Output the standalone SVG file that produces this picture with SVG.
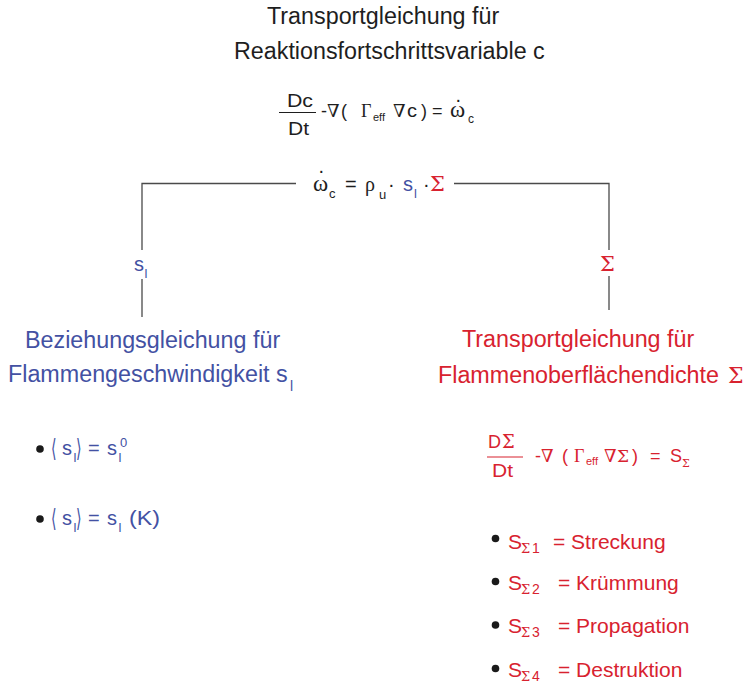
<svg xmlns="http://www.w3.org/2000/svg" width="748" height="683" viewBox="0 0 748 683">
  <style>
    .sans { font-family: "Liberation Sans", Arial, sans-serif; }
    .greek { font-family: "Liberation Serif", "DejaVu Serif", serif; }
    .sig { font-family: "DejaVu Serif", "Liberation Serif", serif; }
    .math { font-family: "DejaVu Sans", "Liberation Serif", serif; }
    .dark { fill: #1e1e1e; }
    .blue { fill: #4351a3; }
    .red { fill: #d8222f; }
    .h { font-size: 23.3px; }
    .eq { font-size: 18px; }
    .row { font-size: 20px; }
    .item { font-size: 21px; }
    .sub { font-size: 12px; }
    .link { stroke: #4a4a4a; stroke-width: 1.3; fill: none; }
    .bar { stroke-width: 1.1; }
    .dot { fill: #1a1a1a; }
  </style>

  <!-- top node: transport equation for the progress variable c -->
  <g id="node-c-transport" class="sans dark">
    <text class="h" x="267" y="24">Transportgleichung für</text>
    <text class="h" x="234" y="59">Reaktionsfortschrittsvariable c</text>
    <text class="eq" x="287" y="107" textLength="26" lengthAdjust="spacingAndGlyphs">Dc</text>
    <line x1="279" y1="112.5" x2="316" y2="112.5" stroke="#1e1e1e" class="bar"/>
    <text class="eq" x="288" y="135" textLength="21" lengthAdjust="spacingAndGlyphs">Dt</text>
    <text class="eq" x="321" y="117">-</text>
    <text class="eq greek" x="327" y="117">∇</text>
    <text class="eq" x="341" y="117">(</text>
    <text class="eq greek" x="361" y="117">Γ</text>
    <text class="sub" x="373" y="121" style="font-size:11px">eff</text>
    <text class="eq greek" x="393" y="117">∇</text>
    <text class="eq" x="407" y="117" textLength="10" lengthAdjust="spacingAndGlyphs">c</text>
    <text class="eq" x="421" y="117">)</text>
    <text class="eq" x="432" y="117">=</text>
    <text class="greek" x="450" y="117" style="font-size:23px">ω</text>
    <text class="row" x="455.5" y="102">.</text>
    <text class="sub" x="468" y="123">c</text>
  </g>

  <!-- source term node: omega_c = rho_u * s_l * Sigma -->
  <g id="node-source" class="sans">
    <text class="greek dark" x="313" y="191" style="font-size:23px">ω</text>
    <text class="row dark" x="318.5" y="173">.</text>
    <text class="sub dark" x="329" y="198" style="font-size:13px">c</text>
    <text class="row dark" x="345" y="191">=</text>
    <text class="row greek dark" x="365" y="191">ρ</text>
    <text class="sub dark" x="379" y="199" style="font-size:13px">u</text>
    <text class="row dark" x="388" y="191">·</text>
    <text class="row blue" x="403" y="191">s</text>
    <text class="sub blue" x="414" y="198" style="font-size:13px">l</text>
    <text class="row dark" x="423" y="191">·</text>
    <text class="sig red" x="430" y="191" style="font-size:21px">Σ</text>
  </g>

  <!-- connectors from the source term to both sub-models -->
  <g id="connectors">
    <polyline class="link" points="296,183.5 142,183.5 142,250"/>
    <line class="link" x1="142" y1="279" x2="142" y2="317"/>
    <polyline class="link" points="454,183.5 609,183.5 609,250"/>
    <line class="link" x1="609" y1="276" x2="609" y2="310"/>
    <text class="sans blue" x="134" y="271" style="font-size:20px">s</text>
    <text class="sans blue" x="144.5" y="278" style="font-size:13px">l</text>
    <text class="sig red" x="600" y="271" style="font-size:21px">Σ</text>
  </g>

  <!-- left node: laminar flame speed relation -->
  <g id="node-flame-speed" class="sans blue">
    <text class="h" x="25" y="348">Beziehungsgleichung für</text>
    <text class="h" x="8" y="382">Flammengeschwindigkeit s</text>
    <text class="sub" x="290" y="391" style="font-size:14px">l</text>

    <circle class="dot" cx="40" cy="449" r="3.8"/>
    <text class="math" transform="translate(51,457) scale(0.75,1.3)" style="font-size:19px">⟨</text>
    <text class="row" x="62" y="455">s</text>
    <text class="sub" x="73.5" y="462" style="font-size:13px">l</text>
    <text class="math" transform="translate(76,457) scale(0.75,1.3)" style="font-size:19px">⟩</text>
    <text class="row" x="88" y="455">=</text>
    <text class="row" x="107" y="455">s</text>
    <text class="sub" x="118.5" y="462" style="font-size:13px">l</text>
    <text class="sub" x="120" y="447" style="font-size:13px">0</text>

    <circle class="dot" cx="40" cy="519" r="3.8"/>
    <text class="math" transform="translate(51,527) scale(0.75,1.3)" style="font-size:19px">⟨</text>
    <text class="row" x="62" y="525">s</text>
    <text class="sub" x="73.5" y="532" style="font-size:13px">l</text>
    <text class="math" transform="translate(76,527) scale(0.75,1.3)" style="font-size:19px">⟩</text>
    <text class="row" x="88" y="525">=</text>
    <text class="row" x="107" y="525">s</text>
    <text class="sub" x="118.5" y="532" style="font-size:13px">l</text>
    <text class="item" x="129" y="525" textLength="31" lengthAdjust="spacingAndGlyphs">(K)</text>
  </g>

  <!-- right node: flame surface density transport -->
  <g id="node-surface-density" class="sans red">
    <text class="h" x="462" y="347">Transportgleichung für</text>
    <text class="h" x="438" y="383">Flammenoberflächendichte</text>
    <text class="sig" x="728" y="383" style="font-size:22px">Σ</text>

    <text class="eq" x="488" y="448">D</text>
    <text class="sig" x="502" y="448" style="font-size:18px">Σ</text>
    <line x1="487" y1="457" x2="523" y2="457" stroke="#d8222f" class="bar"/>
    <text class="eq" x="492" y="477" textLength="21" lengthAdjust="spacingAndGlyphs">Dt</text>
    <text class="eq" x="535" y="462">-</text>
    <text class="eq greek" x="541" y="462">∇</text>
    <text class="eq" x="562" y="462">(</text>
    <text class="eq greek" x="574" y="462">Γ</text>
    <text class="sub" x="586" y="465" style="font-size:11px">eff</text>
    <text class="eq greek" x="604" y="462">∇</text>
    <text class="sig" x="617" y="462" style="font-size:17px">Σ</text>
    <text class="eq" x="632" y="462">)</text>
    <text class="eq" x="650" y="462">=</text>
    <text class="eq" x="670" y="462">S</text>
    <text class="sig" x="682" y="467" style="font-size:11px">Σ</text>

    <circle class="dot" cx="495.5" cy="538.5" r="3.8"/>
    <text class="item" x="508" y="549">S</text>
    <text class="sig" x="521" y="553" style="font-size:13px">Σ</text>
    <text class="sub" x="532" y="553" style="font-size:14px">1</text>
    <text class="item" x="553" y="549">= Streckung</text>

    <circle class="dot" cx="495.5" cy="581.5" r="3.8"/>
    <text class="item" x="508" y="590">S</text>
    <text class="sig" x="521" y="594" style="font-size:13px">Σ</text>
    <text class="sub" x="532" y="594" style="font-size:14px">2</text>
    <text class="item" x="558" y="590">= Krümmung</text>

    <circle class="dot" cx="495.5" cy="625" r="3.8"/>
    <text class="item" x="508" y="633">S</text>
    <text class="sig" x="521" y="637" style="font-size:13px">Σ</text>
    <text class="sub" x="532" y="637" style="font-size:14px">3</text>
    <text class="item" x="558" y="633">= Propagation</text>

    <circle class="dot" cx="495.5" cy="668.5" r="3.8"/>
    <text class="item" x="508" y="677">S</text>
    <text class="sig" x="521" y="681" style="font-size:13px">Σ</text>
    <text class="sub" x="532" y="681" style="font-size:14px">4</text>
    <text class="item" x="558" y="677">= Destruktion</text>
  </g>
</svg>
